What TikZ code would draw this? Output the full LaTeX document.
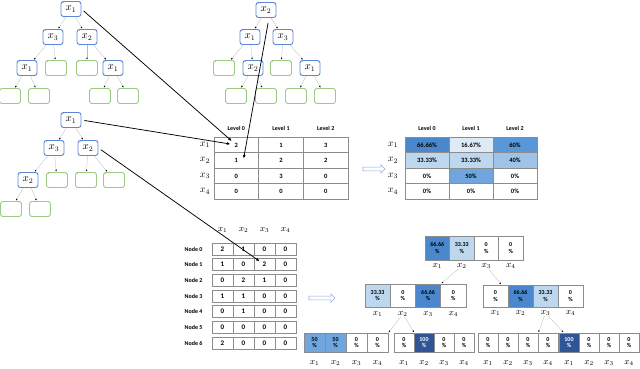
\documentclass[tikz,border=0pt]{standalone}
\usepackage{fontspec}
\newfontfamily\carlito{Carlito}
\usetikzlibrary{arrows.meta,shapes.arrows}
\definecolor{nodeblue}{HTML}{5B87D4}
\definecolor{leafgreen}{HTML}{9CCB84}
\definecolor{gridgray}{HTML}{8C8C8C}
\definecolor{bdeep}{HTML}{2F5597}
\definecolor{bmid}{HTML}{4A87CC}
\definecolor{bsix}{HTML}{5A97D8}
\definecolor{bfive}{HTML}{6FA6DD}
\definecolor{bfour}{HTML}{9FC3E7}
\definecolor{blite}{HTML}{BDD7EE}
\definecolor{bpale}{HTML}{DEEAF6}
\definecolor{hollowblue}{HTML}{8FAADC}
\tikzset{
  tick/.style={anchor=north west,inner sep=0pt,xshift=2pt,yshift=-1.2pt,font=\carlito\fontsize{5}{5}\selectfont,text=gray!70!black},
  treebox/.style={rectangle,rounded corners=2.5pt,draw=nodeblue,line width=0.9pt,fill=white,minimum width=20,minimum height=15,inner sep=0pt,font=\fontsize{10.5}{10.5}\selectfont,label={[tick]north west:'}},
  leafbox/.style={rectangle,rounded corners=2.5pt,draw=leafgreen,line width=0.9pt,fill=white,minimum width=21,minimum height=15,inner sep=0pt},
  leafmark/.style={leafbox,label={[tick]north west:'}},
  tedge/.style={draw=gray!55,line width=0.3pt,-{Latex[length=1.8pt,width=1.6pt,color=black]},shorten >=0.5pt},
  bigarrow/.style={black,line width=0.75pt,-{Latex[length=3.5pt,width=3pt]},shorten <=3pt},
  cnt/.style={rectangle,draw=gridgray,line width=0.6pt,minimum width=44.7,minimum height=15.5,inner sep=0pt,font=\carlito\bfseries\fontsize{6.5}{6.5}\selectfont},
  lvl/.style={font=\carlito\bfseries\fontsize{6}{6}\selectfont},
  xrow/.style={font=\fontsize{10}{10}\selectfont,inner sep=0.5pt},
  ncell/.style={rectangle,draw=gridgray,line width=0.6pt,minimum width=21,minimum height=12,inner sep=0pt,font=\carlito\bfseries\fontsize{7}{7}\selectfont},
  nlab/.style={anchor=east,font=\carlito\bfseries\fontsize{6}{6}\selectfont},
  pcell/.style={rectangle,draw=gridgray,line width=0.6pt,inner sep=0pt,align=center,font=\carlito\bfseries\fontsize{6}{6.5}\selectfont},
  xlab/.style={font=\fontsize{9}{9}\selectfont,inner sep=0.5pt},
  hollow/.style={single arrow,draw=hollowblue,line width=0.6pt,fill=white,inner sep=1.6pt,single arrow head extend=2.2pt,minimum height=22}
}

\begin{document}
\begin{tikzpicture}[x=1pt,y=-1pt]
  \useasboundingbox (0,0) rectangle (640,368);

  % first tree
  \node[treebox] (t1r) at (71,9) {$x_1$};
  \node[treebox] (t1a) at (53,37) {$x_3$};
  \node[treebox] (t1b) at (87,37) {$x_2$};
  \node[treebox] (t1c) at (27,68) {$x_1$};
  \node[leafmark] (t1d) at (56,68) {};
  \node[leafmark] (t1e) at (87,68) {};
  \node[treebox] (t1f) at (113,68) {$x_1$};
  \node[leafbox] (t1g) at (10,96) {};
  \node[leafbox] (t1h) at (39,96) {};
  \node[leafbox] (t1i) at (100,96) {};
  \node[leafbox] (t1j) at (128,96) {};
  \foreach \p/\q in {r/a,r/b,a/c,a/d,b/e,b/f,c/g,c/h,f/i,f/j}
    \draw[tedge] (t1\p) -- (t1\q);

  % second tree
  \node[treebox] (t2r) at (71,120) {$x_1$};
  \node[treebox] (t2a) at (54,148) {$x_3$};
  \node[treebox] (t2b) at (88,148) {$x_2$};
  \node[treebox] (t2c) at (28,180) {$x_2$};
  \node[leafmark] (t2d) at (57,180) {};
  \node[leafmark] (t2e) at (86,180) {};
  \node[leafmark] (t2f) at (114,180) {};
  \node[leafbox] (t2g) at (11,209) {};
  \node[leafbox] (t2h) at (40,209) {};
  \foreach \p/\q in {r/a,r/b,a/c,a/d,b/e,b/f,c/g,c/h}
    \draw[tedge] (t2\p) -- (t2\q);

  % third tree
  \node[treebox] (t3r) at (266,10) {$x_2$};
  \node[treebox] (t3a) at (250,37) {$x_1$};
  \node[treebox] (t3b) at (283,37) {$x_3$};
  \node[leafmark] (t3c) at (224,68) {};
  \node[treebox] (t3d) at (253,68) {$x_2$};
  \node[leafmark] (t3e) at (281,68) {};
  \node[treebox] (t3f) at (310,68) {$x_1$};
  \node[leafbox] (t3g) at (236,96) {};
  \node[leafbox] (t3h) at (266,96) {};
  \node[leafbox] (t3i) at (296,96) {};
  \node[leafbox] (t3j) at (325,96) {};
  \foreach \p/\q in {r/a,r/b,a/c,a/d,b/e,b/f,d/g,d/h,f/i,f/j}
    \draw[tedge] (t3\p) -- (t3\q);

  % counts per level
  \foreach \l/\x in {0/236.3,1/281,2/325.7}
    \node[lvl] (ha-\l) at (\x,128) {Level \l};
  \foreach \n/\a/\b/\c in {1/2/1/3,2/1/2/2,3/0/3/0,4/0/0/0}{
    \node[cnt] (ca-\n-1) at (236.3,{129.5+15.5*\n}) {\a};
    \node[cnt] (ca-\n-2) at (281,{129.5+15.5*\n}) {\b};
    \node[cnt] (ca-\n-3) at (325.7,{129.5+15.5*\n}) {\c};
    \node[xrow] (ra-\n) at (205,{129.5+15.5*\n}) {$x_{\n}$};
  }

  \node[hollow] (h1) at (373,169) {};

  % shares per level
  \foreach \l/\x in {0/427,1/471,2/515}
    \node[lvl] (hb-\l) at (\x,128) {Level \l};
  \foreach \n/\a/\fa/\b/\fb/\c/\fc in {1/66.66/bmid/16.67/bpale/60/bsix,2/33.33/blite/33.33/blite/40/bfour,3/0/white/50/bfive/0/white,4/0/white/0/white/0/white}{
    \node[cnt,minimum width=44,fill=\fa] (cb-\n-1) at (427,{129.5+15.5*\n}) {\a\%};
    \node[cnt,minimum width=44,fill=\fb] (cb-\n-2) at (471,{129.5+15.5*\n}) {\b\%};
    \node[cnt,minimum width=44,fill=\fc] (cb-\n-3) at (515,{129.5+15.5*\n}) {\c\%};
    \node[xrow] (rb-\n) at (393,{129.5+15.5*\n}) {$x_{\n}$};
  }

  % counts per node
  \foreach \k/\x in {1/222.5,2/243.5,3/264.5,4/285.5}
    \node[xlab] (hc-\k) at (\x,230) {$x_{\k}$};
  \foreach \n/\a/\b/\c/\d in {0/2/1/0/0,1/1/0/2/0,2/0/2/1/0,3/1/1/0/0,4/0/1/0/0,5/0/0/0/0,6/2/0/0/0}{
    \node[ncell] (cc-\n-1) at (222.5,{249+15.67*\n}) {\a};
    \node[ncell] (cc-\n-2) at (243.5,{249+15.67*\n}) {\b};
    \node[ncell] (cc-\n-3) at (264.5,{249+15.67*\n}) {\c};
    \node[ncell] (cc-\n-4) at (285.5,{249+15.67*\n}) {\d};
    \node[nlab] (rc-\n) at (206,{249+15.67*\n}) {Node \n};
  }

  \node[hollow,minimum height=26] (h2) at (321,298) {};

  % shares per node
  \foreach \k/\v/\f in {1/66.66/bmid,2/33.33/blite,3/0/white,4/0/white}{
    \node[pcell,fill=\f,minimum width=24.5,minimum height=24] (p0-\k) at ({412.75+24.5*\k},248) {\v\\\%};
    \node[xlab] (q0-\k) at ({412.75+24.5*\k},266) {$x_{\k}$};
  }
  \foreach \k/\v/\f in {1/33.33/blite,2/0/white,3/66.66/bmid,4/0/white}{
    \node[pcell,fill=\f,minimum width=25.25,minimum height=23] (pl-\k) at ({352.375+25.25*\k},295.5) {\v\\\%};
    \node[xlab] (ql-\k) at ({352.375+25.25*\k},314) {$x_{\k}$};
  }
  \foreach \k/\v/\f in {1/0/white,2/66.66/bmid,3/33.33/blite,4/0/white}{
    \node[pcell,fill=\f,minimum width=25,minimum height=22] (pr-\k) at ({470.5+25*\k},296) {\v\\\%};
    \node[xlab] (qr-\k) at ({470.5+25*\k},313) {$x_{\k}$};
  }
  \foreach \k/\v/\f/\t in {1/50/bfive/black,2/50/bfive/black,3/0/white/black,4/0/white/black}{
    \node[pcell,fill=\f,text=\t,minimum width=21,minimum height=19] (pa-\k) at ({293.5+21*\k},342.5) {\v\\\%};
    \node[xlab] (qa-\k) at ({293.5+21*\k},363) {$x_{\k}$};
  }
  \foreach \k/\v/\f/\t in {1/0/white/black,2/100/bdeep/white,3/0/white/black,4/0/white/black}{
    \node[pcell,fill=\f,text=\t,minimum width=20,minimum height=19] (pb-\k) at ({384+20*\k},342.5) {\v\\\%};
    \node[xlab] (qb-\k) at ({384+20*\k},363) {$x_{\k}$};
  }
  \foreach \k/\v/\f/\t in {1/0/white/black,2/0/white/black,3/0/white/black,4/0/white/black}{
    \node[pcell,fill=\f,text=\t,minimum width=20,minimum height=19] (pc-\k) at ({468+20*\k},342.5) {\v\\\%};
    \node[xlab] (qc-\k) at ({468+20*\k},363) {$x_{\k}$};
  }
  \foreach \k/\v/\f/\t in {1/100/bdeep/white,2/0/white/black,3/0/white/black,4/0/white/black}{
    \node[pcell,fill=\f,text=\t,minimum width=20,minimum height=19] (pd-\k) at ({549+20*\k},342.5) {\v\\\%};
    \node[xlab] (qd-\k) at ({549+20*\k},363) {$x_{\k}$};
  }
  \draw[tedge] (q0-2) -- (pl-3.north east);
  \draw[tedge] (q0-3) -- ([xshift=-7pt]pr-1.north east);
  \draw[tedge] (ql-2) -- (pa-4.north east);
  \draw[tedge] (ql-2) -- (pb-1.north east);
  \draw[tedge] (qr-3) -- (pc-3.north east);
  \draw[tedge] (qr-3) -- ([xshift=5pt]pd-1.north west);

  % links from trees to tables
  \draw[bigarrow,shorten >=6pt] (t1r.east) -- (ca-1-1.center);
  \draw[bigarrow,shorten >=6pt] (t2r.east) -- (ca-1-1.center);
  \draw[bigarrow,shorten <=5pt,shorten >=2pt] ([xshift=3pt]t3r.south) -- ([xshift=7pt]ca-2-1.center);
  \draw[bigarrow,shorten >=6pt] (t2b.east) -- (cc-1-3.center);
\end{tikzpicture}
\end{document}
